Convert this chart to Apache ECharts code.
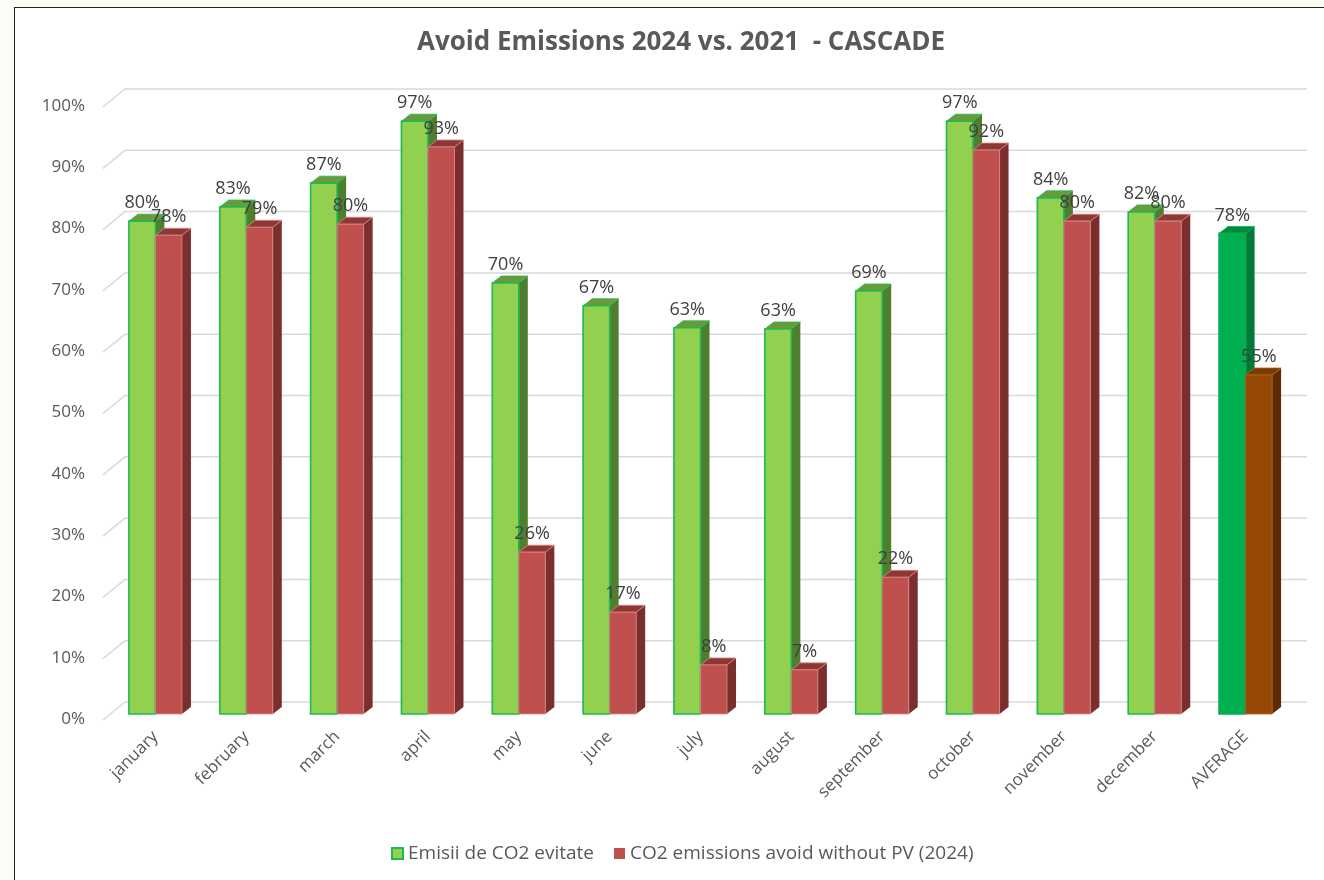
<!DOCTYPE html>
<html>
<head>
<meta charset="utf-8">
<script src="https://cdn.jsdelivr.net/npm/echarts@6/dist/echarts.min.js"></script>
<style>
  html, body { margin: 0; padding: 0; background: #fafcf5; overflow: hidden; }
  #frame { position: absolute; left: 14px; top: 7px; width: 1400px; height: 1000px; background: #fff; border: 1px solid #222; }
  #main { position: absolute; left: 0; top: 0; width: 1324px; height: 880px; }
</style>
</head>
<body>
<div id="frame"></div>
<div id="main"></div>
<script>
// categories and values
var categories = ['january', 'february', 'march', 'april', 'may', 'june', 'july',
    'august', 'september', 'october', 'november', 'december', 'AVERAGE'];
var avoided = [0.804, 0.827, 0.866, 0.967, 0.703, 0.666, 0.630, 0.628, 0.690, 0.967, 0.842, 0.819, 0.784];
var withoutPV = [0.781, 0.794, 0.799, 0.925, 0.264, 0.166, 0.080, 0.072, 0.223, 0.920, 0.804, 0.804, 0.553];
var yTicks = [0, 0.1, 0.2, 0.3, 0.4, 0.5, 0.6, 0.7, 0.8, 0.9, 1.0];

var seriesNames = ['Emisii de CO2 evitate', 'CO2 emissions avoid without PV (2024)'];

var FONT = '"Open Sans", sans-serif';

// front / side / top colours, the last category has its own
var palette = [
    { front: '#92D050', side: '#4F7F2E', top: '#6A9A3A', stroke: '#1DB954' },
    { front: '#C0504D', side: '#7B2E2E', top: '#8E3835', stroke: '#D98A88' }
];
var avgPalette = [
    { front: '#00B050', side: '#007A36', top: '#00883C', stroke: '#00B050' },
    { front: '#974706', side: '#5E2C04', top: '#7A3A05', stroke: '#B8650F' }
];

var DX = 9, DY = 7;

function barRenderer(s) {
    return function (params, api) {
        var idx = api.value(0);
        var v = api.value(1);
        var base = api.coord([idx, 0]);
        var top = api.coord([idx, v]);
        var band = api.size([1, 0])[0];
        var w = band * 0.292;
        var xL = base[0] - w + s * w;
        var xR = xL + w;
        var y0 = base[1], y1 = top[1];
        var c = categories[idx] === 'AVERAGE' ? avgPalette[s] : palette[s];
        return {
            type: 'group',
            children: [
                {
                    type: 'polygon',
                    shape: { points: [[xR, y1], [xR + DX, y1 - DY], [xR + DX, y0 - DY], [xR, y0]] },
                    style: { fill: c.side }
                },
                {
                    type: 'polygon',
                    shape: { points: [[xL, y1], [xL + DX, y1 - DY], [xR + DX, y1 - DY], [xR, y1]] },
                    style: { fill: c.top, stroke: c.stroke, lineWidth: 0.8 }
                },
                {
                    type: 'rect',
                    shape: { x: xL, y: y1, width: w, height: y0 - y1 },
                    style: { fill: c.front, stroke: c.stroke, lineWidth: s === 0 ? 1.6 : 0.8 }
                },
                {
                    type: 'text',
                    x: (xL + xR) / 2,
                    y: y1 - 18,
                    style: {
                        text: Math.round(v * 100) + '%',
                        fill: '#404040',
                        font: '18px ' + FONT,
                        align: 'center',
                        verticalAlign: 'middle'
                    },
                    z2: 10
                }
            ]
        };
    };
}

function gridRenderer(params, api) {
    var p = api.coord([0, api.value(1)]);
    var x0 = params.coordSys.x;
    var x1 = params.coordSys.x + params.coordSys.width;
    var y = p[1];
    return {
        type: 'polyline',
        shape: { points: [[x0 - 7, y + 6], [x0 + 15, y - 12], [x1 + 16, y - 12]] },
        style: { stroke: '#D9D9D9', lineWidth: 1.5, fill: null }
    };
}

var chart = echarts.init(document.getElementById('main'));
chart.setOption({
    backgroundColor: 'transparent',
    animation: false,
    title: {
        text: 'Avoid Emissions 2024 vs. 2021  - CASCADE',
        left: 412,
        top: 25,
        textStyle: { color: '#595959', fontSize: 26, fontWeight: 'bold', fontFamily: FONT }
    },
    legend: {
        data: seriesNames,
        top: 839,
        left: 386,
        icon: 'rect',
        itemWidth: 11,
        itemHeight: 11,
        itemGap: 20,
        textStyle: { color: '#595959', fontSize: 19, fontFamily: FONT }
    },
    grid: { left: 110, right: 33, top: 101, bottom: 166 },
    xAxis: {
        type: 'category',
        data: categories,
        axisLine: { show: false },
        axisTick: { show: false },
        axisLabel: { rotate: 45, margin: 20, color: '#595959', fontSize: 17, fontFamily: FONT, interval: 0 }
    },
    yAxis: {
        type: 'value',
        min: 0,
        max: 1,
        interval: 0.1,
        splitLine: { show: false },
        axisLine: { show: false },
        axisTick: { show: false },
        axisLabel: {
            margin: 25,
            color: '#595959',
            fontSize: 17,
            fontFamily: FONT,
            verticalAlign: 'top',
            lineHeight: 10,
            formatter: function (v) { return Math.round(v * 100) + '%'; }
        }
    },
    series: [
        {
            name: 'grid',
            type: 'custom',
            renderItem: gridRenderer,
            data: yTicks.map(function (t) { return [0, t]; }),
            clip: false,
            silent: true,
            z: 1
        },
        {
            name: seriesNames[0],
            type: 'custom',
            renderItem: barRenderer(0),
            itemStyle: { color: '#92D050', borderColor: '#1DB954', borderWidth: 1.5 },
            data: avoided.map(function (v, i) { return [i, v]; }),
            clip: false,
            z: 2
        },
        {
            name: seriesNames[1],
            type: 'custom',
            renderItem: barRenderer(1),
            itemStyle: { color: '#C0504D' },
            data: withoutPV.map(function (v, i) { return [i, v]; }),
            clip: false,
            z: 3
        }
    ]
});
</script>
</body>
</html>
